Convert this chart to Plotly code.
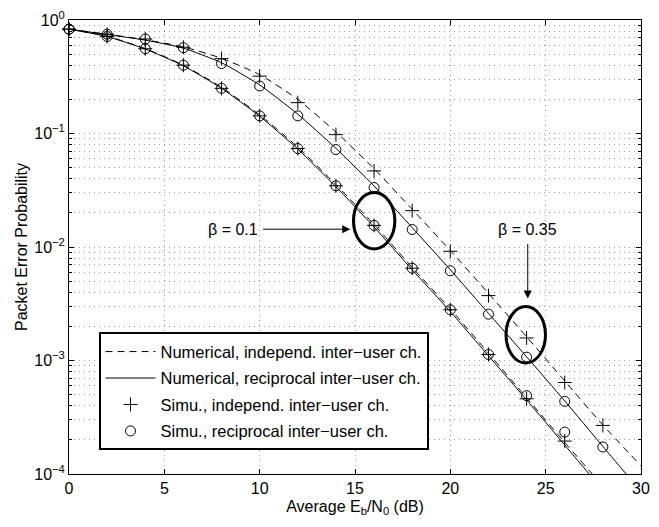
import plotly.graph_objects as go

# ---- data ----
snr_num = [0, 2, 4, 6, 8, 10, 12, 14, 16, 18, 20, 22, 24, 26, 28, 30]
num_indep_b035 = [0.83, 0.75, 0.67, 0.58, 0.46, 0.33, 0.20, 0.103, 0.049, 0.0215, 0.0093, 0.0039, 0.00162, 0.00066, 0.00027, 0.000118]
num_recip_b035 = [0.83, 0.745, 0.665, 0.565, 0.42, 0.268, 0.148, 0.074, 0.0345, 0.0148, 0.0063, 0.0026, 0.00108, 0.00044, 0.000175, 0.00007]
num_indep_b01 = [0.83, 0.72, 0.56, 0.40, 0.255, 0.146, 0.076, 0.0355, 0.0158, 0.0066, 0.00285, 0.00116, 0.00047, 0.00019, 0.000078, 0.000032]
num_recip_b01 = [0.83, 0.715, 0.555, 0.395, 0.25, 0.142, 0.073, 0.034, 0.015, 0.0063, 0.0027, 0.0011, 0.00045, 0.00018, 0.000072, 0.00003]

snr_sim_b035 = [0, 2, 4, 6, 8, 10, 12, 14, 16, 18, 20, 22, 24, 26, 28]
sim_indep_b035 = [0.83, 0.75, 0.68, 0.575, 0.457, 0.32, 0.187, 0.0977, 0.0468, 0.0209, 0.00917, 0.00373, 0.00158, 0.00064, 0.000268]
sim_recip_b035 = [0.83, 0.75, 0.68, 0.57, 0.413, 0.262, 0.143, 0.0722, 0.0334, 0.01426, 0.00617, 0.00256, 0.00107, 0.000437, 0.000173]
snr_sim_b01 = [0, 2, 4, 6, 8, 10, 12, 14, 16, 18, 20, 22, 24, 26]
sim_indep_b01 = [0.83, 0.715, 0.558, 0.40, 0.25, 0.143, 0.0737, 0.0346, 0.0155, 0.0065, 0.0028, 0.00113, 0.00046, 0.000195]
sim_recip_b01 = [0.83, 0.715, 0.558, 0.40, 0.25, 0.143, 0.0737, 0.0346, 0.0155, 0.0065, 0.0028, 0.00113, 0.00049, 0.000234]

x_ticks = [0, 5, 10, 15, 20, 25, 30]
y_tickvals = [1e-4, 1e-3, 1e-2, 1e-1, 1]
y_ticktext = ["10<sup>−4</sup>", "10<sup>−3</sup>", "10<sup>−2</sup>", "10<sup>−1</sup>", "10<sup>0</sup>"]

legend_names = ["Numerical, independ. inter−user ch.",
                "Numerical, reciprocal inter−user ch.",
                "Simu., independ. inter−user ch.",
                "Simu., reciprocal inter−user ch."]

FONT = "Liberation Sans, Arial, sans-serif"
fig = go.Figure()

def line_trace(x, y, dash, name, grp, show):
    return go.Scatter(x=x, y=y, mode="lines", name=name, legendgroup=grp, showlegend=show,
                      line=dict(color="black", width=1, dash=dash, shape="spline", smoothing=0.5))

def marker_trace(x, y, symbol, size, name, grp, show):
    return go.Scatter(x=x, y=y, mode="markers", name=name, legendgroup=grp, showlegend=show,
                      cliponaxis=False,
                      marker=dict(symbol=symbol, size=size, color="black",
                                  line=dict(color="black", width=1)))

fig.add_trace(line_trace(snr_num, num_indep_b035, "7px,5px", legend_names[0], "a", True))
fig.add_trace(line_trace(snr_num, num_indep_b01, "7px,5px", legend_names[0], "a", False))
fig.add_trace(line_trace(snr_num, num_recip_b035, "solid", legend_names[1], "b", True))
fig.add_trace(line_trace(snr_num, num_recip_b01, "solid", legend_names[1], "b", False))
fig.add_trace(marker_trace(snr_sim_b035, sim_indep_b035, "cross-thin-open", 10, legend_names[2], "c", True))
fig.add_trace(marker_trace(snr_sim_b01, sim_indep_b01, "cross-thin-open", 10, legend_names[2], "c", False))
fig.add_trace(marker_trace(snr_sim_b035, sim_recip_b035, "circle-open", 10, legend_names[3], "d", True))
fig.add_trace(marker_trace(snr_sim_b01, sim_recip_b01, "circle-open", 10, legend_names[3], "d", False))

# ellipses
fig.add_shape(type="circle", xref="x", yref="y", x0=14.92, x1=17.09, y0=0.00962, y1=0.0302,
              line=dict(color="black", width=3))
fig.add_shape(type="circle", xref="x", yref="y", x0=22.92, x1=24.99, y0=0.00095, y1=0.00299,
              line=dict(color="black", width=3))

# annotations
fig.add_annotation(x=8.62, y=-1.843, xref="x", yref="y", text="β = 0.1", showarrow=False,
                   font=dict(family=FONT, size=16, color="black"))
fig.add_annotation(x=14.75, y=-1.843, ax=10.1, ay=-1.843, xref="x", yref="y", axref="x", ayref="y",
                   text="", showarrow=True, arrowhead=2, arrowsize=1.6, arrowwidth=1, arrowcolor="black",
                   standoff=0, startstandoff=0)
fig.add_annotation(x=24.06, y=-1.843, xref="x", yref="y", text="β = 0.35", showarrow=False,
                   font=dict(family=FONT, size=16, color="black"))
fig.add_annotation(x=24.06, y=-2.454, ax=24.06, ay=-1.96, xref="x", yref="y", axref="x", ayref="y",
                   text="", showarrow=True, arrowhead=2, arrowsize=1.6, arrowwidth=1, arrowcolor="black",
                   standoff=0, startstandoff=0)

minor_vals = [m * 10 ** e for e in range(-4, 0) for m in range(2, 10)]
grid_dash = "1px,4px"
grid_col = "#a0a0a0"

fig.update_layout(
    width=659, height=527,
    margin=dict(l=69, r=9, t=16, b=53),
    paper_bgcolor="white", plot_bgcolor="white",
    font=dict(family=FONT, size=16, color="black"),
    showlegend=True,
    legend=dict(x=0.0516, y=0.312, xanchor="left", yanchor="top",
                bordercolor="black", borderwidth=2, bgcolor="white",
                font=dict(family=FONT, size=16.5, color="black"),
                itemwidth=50, tracegroupgap=2, traceorder="grouped"),
    xaxis=dict(range=[0, 30], tickvals=x_ticks, ticks="inside", ticklen=5, tickcolor="black",
               showline=True, linecolor="black", linewidth=1, mirror="ticks",
               showgrid=True, gridcolor=grid_col, griddash=grid_dash, gridwidth=1,
               zeroline=False, tickfont=dict(size=16),
               title=dict(text="Average E<sub>b</sub>/N<sub>0</sub> (dB)", font=dict(size=16), standoff=4)),
    yaxis=dict(type="log", range=[-4, 0], tickvals=y_tickvals, ticktext=y_ticktext,
               ticks="inside", ticklen=5, tickcolor="black",
               showline=True, linecolor="black", linewidth=1, mirror="ticks",
               showgrid=True, gridcolor=grid_col, griddash=grid_dash, gridwidth=1,
               zeroline=False, tickfont=dict(size=16),
               minor=dict(tickvals=minor_vals, ticks="inside", ticklen=3, tickcolor="black",
                          showgrid=True, gridcolor=grid_col, griddash=grid_dash, gridwidth=1),
               title=dict(text="Packet Error Probability", font=dict(size=16), standoff=2)),
)

fig.write_html("out.html")
